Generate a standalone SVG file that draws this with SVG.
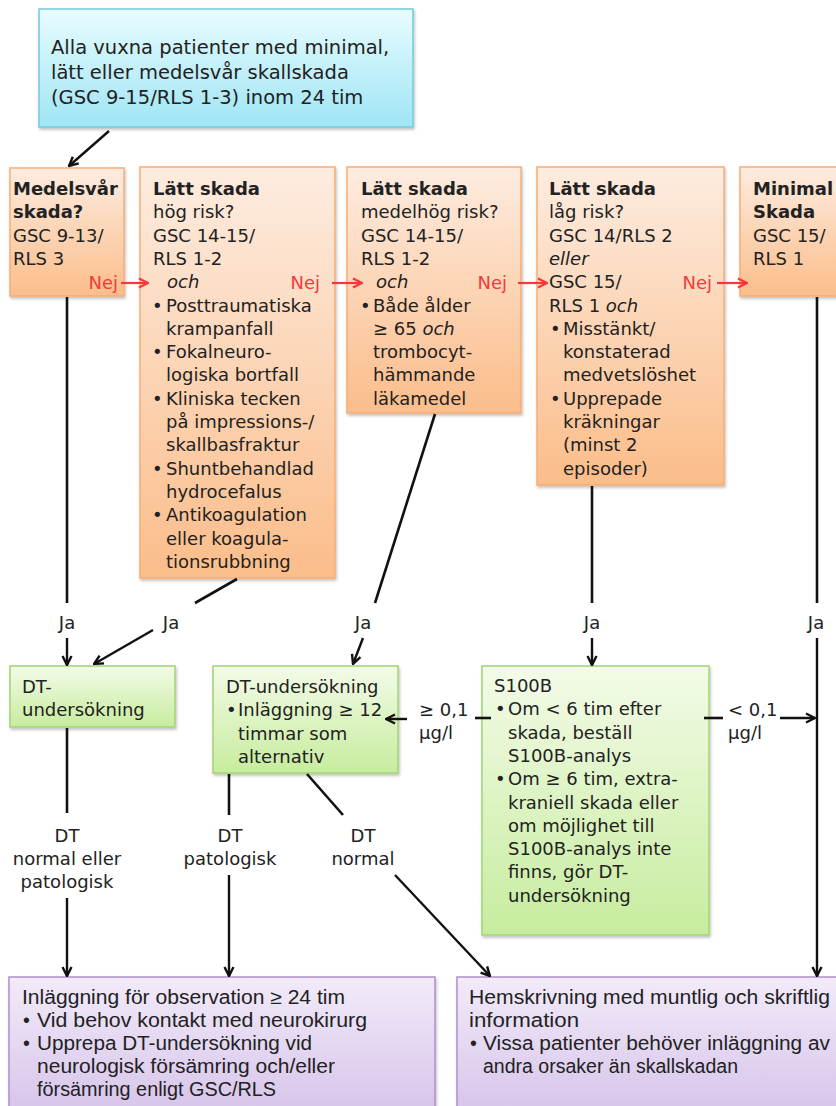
<svg xmlns="http://www.w3.org/2000/svg" width="836" height="1106" viewBox="0 0 836 1106">
<defs>
<linearGradient id="gCyan" x1="0" y1="0" x2="0" y2="1"><stop offset="0" stop-color="#e8fcff"/><stop offset="1" stop-color="#9fe5f4"/></linearGradient>
<linearGradient id="gOrange" x1="0" y1="0" x2="0" y2="1"><stop offset="0" stop-color="#fdece0"/><stop offset="1" stop-color="#fbbd8a"/></linearGradient>
<linearGradient id="gGreen" x1="0" y1="0" x2="0" y2="1"><stop offset="0" stop-color="#f3fbe8"/><stop offset="1" stop-color="#c7ec9e"/></linearGradient>
<linearGradient id="gPurple" x1="0" y1="0" x2="0" y2="1"><stop offset="0" stop-color="#f2ebf9"/><stop offset="1" stop-color="#d6c3ea"/></linearGradient>
<filter id="sh" x="-5%" y="-5%" width="115%" height="115%"><feDropShadow dx="1" dy="2" stdDeviation="1.5" flood-color="#000" flood-opacity="0.25"/></filter>
<marker id="ah" viewBox="0 0 12 12" refX="11" refY="6" markerWidth="12" markerHeight="12" markerUnits="userSpaceOnUse" orient="auto"><path d="M2,1.5 L11,6 L2,10.5" fill="none" stroke="#111" stroke-width="2.4"/></marker>
<marker id="ahr" viewBox="0 0 12 12" refX="11" refY="6" markerWidth="12" markerHeight="12" markerUnits="userSpaceOnUse" orient="auto"><path d="M2,1.5 L11,6 L2,10.5" fill="none" stroke="#f23a3a" stroke-width="2.2"/></marker>
<style>
text{font-family:"DejaVu Sans",sans-serif;font-size:18px;fill:#222}
.top{font-size:19.5px}
.b{font-weight:bold}
.i{font-style:italic}
.nej{fill:#f03c3c;text-anchor:end}
.m{text-anchor:middle}
.p{font-family:"Liberation Sans",Arial,sans-serif;font-size:19.5px}
.line{stroke:#111;stroke-width:2.6;fill:none}
.arr{stroke:#111;stroke-width:2.4;fill:none;marker-end:url(#ah)}
.rarr{stroke:#f23a3a;stroke-width:2.2;fill:none;marker-end:url(#ahr)}
.bc{fill:url(#gCyan);stroke:#74cadc;stroke-width:1.5}
.bo{fill:url(#gOrange);stroke:#f7ad74;stroke-width:1.5}
.bg{fill:url(#gGreen);stroke:#a3d474;stroke-width:1.5}
.bp{fill:url(#gPurple);stroke:#ad90cc;stroke-width:1.5}
</style>
</defs>

<g id="start">
<rect class="bc" x="39" y="9" width="374" height="118" filter="url(#sh)"/>
<text class="top" x="51" y="54">Alla vuxna patienter med minimal,</text>
<text class="top" x="51" y="79">lätt eller medelsvår skallskada</text>
<text class="top" x="51" y="104">(GSC 9-15/RLS 1-3) inom 24 tim</text>
</g>

<g id="medelsvar">
<rect class="bo" x="10" y="168" width="114" height="128" filter="url(#sh)"/>
<text class="b" x="13" y="195">Medelsvår</text>
<text class="b" x="13" y="218">skada?</text>
<text x="13" y="241.6">GSC 9-13/</text>
<text x="13" y="265">RLS 3</text>
<text class="nej" x="118" y="289">Nej</text>
</g>

<g id="latt-hog">
<rect class="bo" x="140" y="167" width="195" height="411" filter="url(#sh)"/>
<text class="b" x="153" y="195">Lätt skada</text>
<text x="153" y="218.3">hög risk?</text>
<text x="153" y="241.6">GSC 14-15/</text>
<text x="153" y="264.9">RLS 1-2</text>
<text class="i" x="167" y="288.2">och</text>
<text class="nej" x="320" y="289">Nej</text>
<text x="152" y="311.5">•</text><text x="166" y="311.5">Posttraumatiska</text>
<text x="166" y="334.8">krampanfall</text>
<text x="152" y="358.1">•</text><text x="166" y="358.1">Fokalneuro-</text>
<text x="166" y="381.4">logiska bortfall</text>
<text x="152" y="404.7">•</text><text x="166" y="404.7">Kliniska tecken</text>
<text x="166" y="428">på impressions-/</text>
<text x="166" y="451.3">skallbasfraktur</text>
<text x="152" y="474.6">•</text><text x="166" y="474.6">Shuntbehandlad</text>
<text x="166" y="497.9">hydrocefalus</text>
<text x="152" y="521.2">•</text><text x="166" y="521.2">Antikoagulation</text>
<text x="166" y="544.5">eller koagula-</text>
<text x="166" y="567.8">tionsrubbning</text>
</g>

<g id="latt-medelhog">
<rect class="bo" x="347" y="167" width="174" height="246" filter="url(#sh)"/>
<text class="b" x="361" y="195">Lätt skada</text>
<text x="361" y="218.3">medelhög risk?</text>
<text x="361" y="241.6">GSC 14-15/</text>
<text x="361" y="264.9">RLS 1-2</text>
<text class="i" x="376" y="288.2">och</text>
<text class="nej" x="507" y="289">Nej</text>
<text x="360" y="311.5">•</text><text x="373" y="311.5">Både ålder</text>
<text x="373" y="334.8">≥ 65 <tspan class="i">och</tspan></text>
<text x="373" y="358.1">trombocyt-</text>
<text x="373" y="381.4">hämmande</text>
<text x="373" y="404.7">läkamedel</text>
</g>

<g id="latt-lag">
<rect class="bo" x="537" y="167" width="187" height="318" filter="url(#sh)"/>
<text class="b" x="549" y="195">Lätt skada</text>
<text x="549" y="218.3">låg risk?</text>
<text x="549" y="241.6">GSC 14/RLS 2</text>
<text class="i" x="549" y="264.9">eller</text>
<text x="549" y="288.2">GSC 15/</text>
<text class="nej" x="712" y="289">Nej</text>
<text x="549" y="311.5">RLS 1 <tspan class="i">och</tspan></text>
<text x="550" y="334.8">•</text><text x="563" y="334.8">Misstänkt/</text>
<text x="563" y="358.1">konstaterad</text>
<text x="563" y="381.4">medvetslöshet</text>
<text x="550" y="404.7">•</text><text x="563" y="404.7">Upprepade</text>
<text x="563" y="428">kräkningar</text>
<text x="563" y="451.3">(minst 2</text>
<text x="563" y="474.6">episoder)</text>
</g>

<g id="minimal">
<rect class="bo" x="740" y="167" width="110" height="129" filter="url(#sh)"/>
<text class="b" x="753" y="195">Minimal</text>
<text class="b" x="753" y="218.3">Skada</text>
<text x="753" y="241.6">GSC 15/</text>
<text x="753" y="264.9">RLS 1</text>
</g>

<g id="dt1">
<rect class="bg" x="10" y="666" width="165" height="61" filter="url(#sh)"/>
<text x="22" y="693">DT-</text>
<text x="22" y="716">undersökning</text>
</g>

<g id="dt2">
<rect class="bg" x="213" y="666" width="185" height="107" filter="url(#sh)"/>
<text x="226" y="693">DT-undersökning</text>
<text x="226" y="716.3">•</text><text x="238" y="716.3">Inläggning ≥ 12</text>
<text x="238" y="739.6">timmar som</text>
<text x="238" y="762.9">alternativ</text>
</g>

<g id="s100b">
<rect class="bg" x="482" y="666" width="227" height="269" filter="url(#sh)"/>
<text x="494" y="692">S100B</text>
<text x="495" y="715.3">•</text><text x="508" y="715.3">Om &lt; 6 tim efter</text>
<text x="508" y="738.6">skada, beställ</text>
<text x="508" y="761.9">S100B-analys</text>
<text x="495" y="785.2">•</text><text x="508" y="785.2">Om ≥ 6 tim, extra-</text>
<text x="508" y="808.5">kraniell skada eller</text>
<text x="508" y="831.8">om möjlighet till</text>
<text x="508" y="855.1">S100B-analys inte</text>
<text x="508" y="878.4">finns, gör DT-</text>
<text x="508" y="901.7">undersökning</text>
</g>

<g id="inlaggning">
<rect class="bp" x="9" y="977" width="426" height="140" filter="url(#sh)"/>
<text class="p" x="22" y="1004" textLength="323" lengthAdjust="spacingAndGlyphs">Inläggning för observation ≥ 24 tim</text>
<text class="p" x="23" y="1027">•</text><text class="p" x="37" y="1027" textLength="330" lengthAdjust="spacingAndGlyphs">Vid behov kontakt med neurokirurg</text>
<text class="p" x="23" y="1050">•</text><text class="p" x="37" y="1050" textLength="275" lengthAdjust="spacingAndGlyphs">Upprepa DT-undersökning vid</text>
<text class="p" x="37" y="1073" textLength="298" lengthAdjust="spacingAndGlyphs">neurologisk försämring och/eller</text>
<text class="p" x="37" y="1096" textLength="239" lengthAdjust="spacingAndGlyphs">försämring enligt GSC/RLS</text>
</g>

<g id="hemskrivning">
<rect class="bp" x="457" y="977" width="390" height="140" filter="url(#sh)"/>
<text class="p" x="469" y="1004" textLength="361" lengthAdjust="spacingAndGlyphs">Hemskrivning med muntlig och skriftlig</text>
<text class="p" x="469" y="1027" textLength="110" lengthAdjust="spacingAndGlyphs">information</text>
<text class="p" x="470" y="1050">•</text><text class="p" x="483" y="1050" textLength="347" lengthAdjust="spacingAndGlyphs">Vissa patienter behöver inläggning av</text>
<text class="p" x="483" y="1073" textLength="255" lengthAdjust="spacingAndGlyphs">andra orsaker än skallskadan</text>
</g>

<g id="connectors">
<line class="arr" x1="109" y1="131" x2="69" y2="166"/>
<line class="rarr" x1="121" y1="283" x2="148" y2="283"/>
<line class="rarr" x1="332" y1="283" x2="362" y2="283"/>
<line class="rarr" x1="518" y1="283" x2="547" y2="283"/>
<line class="rarr" x1="717" y1="283" x2="747" y2="283"/>

<line class="line" x1="67" y1="297" x2="67" y2="603"/>
<line class="arr" x1="67" y1="638" x2="67" y2="665"/>
<line class="line" x1="237" y1="579" x2="195" y2="603"/>
<line class="arr" x1="153" y1="630" x2="94" y2="664"/>
<line class="line" x1="435" y1="414" x2="375" y2="603"/>
<line class="arr" x1="363" y1="638" x2="353" y2="664"/>
<line class="line" x1="592" y1="486" x2="592" y2="603"/>
<line class="arr" x1="592" y1="638" x2="592" y2="665"/>
<line class="line" x1="817" y1="297" x2="817" y2="603"/>
<line class="arr" x1="817" y1="638" x2="817" y2="976"/>

<line class="line" x1="475" y1="718" x2="491" y2="718"/>
<line class="arr" x1="407" y1="719" x2="386" y2="719"/>
<line class="line" x1="704" y1="718" x2="723" y2="718"/>
<line class="arr" x1="780" y1="718" x2="815" y2="718"/>

<line class="line" x1="67" y1="728" x2="67" y2="813"/>
<line class="arr" x1="67" y1="898" x2="67" y2="976"/>
<line class="line" x1="229" y1="774" x2="229" y2="815"/>
<line class="arr" x1="229" y1="875" x2="229" y2="976"/>
<line class="line" x1="307" y1="774" x2="343" y2="815"/>
<line class="arr" x1="395" y1="875" x2="490" y2="976"/>

<text class="m" x="67" y="629">Ja</text>
<text class="m" x="171" y="629">Ja</text>
<text class="m" x="363" y="629">Ja</text>
<text class="m" x="592" y="629">Ja</text>
<text class="m" x="816" y="629">Ja</text>
<text x="419" y="716">≥ 0,1</text>
<text x="419" y="739">µg/l</text>
<text x="728" y="716">&lt; 0,1</text>
<text x="728" y="739">µg/l</text>
<text class="m" x="67" y="842">DT</text>
<text class="m" x="67" y="865">normal eller</text>
<text class="m" x="67" y="888">patologisk</text>
<text class="m" x="230" y="842">DT</text>
<text class="m" x="230" y="865">patologisk</text>
<text class="m" x="363" y="842">DT</text>
<text class="m" x="363" y="865">normal</text>
</g>
</svg>
